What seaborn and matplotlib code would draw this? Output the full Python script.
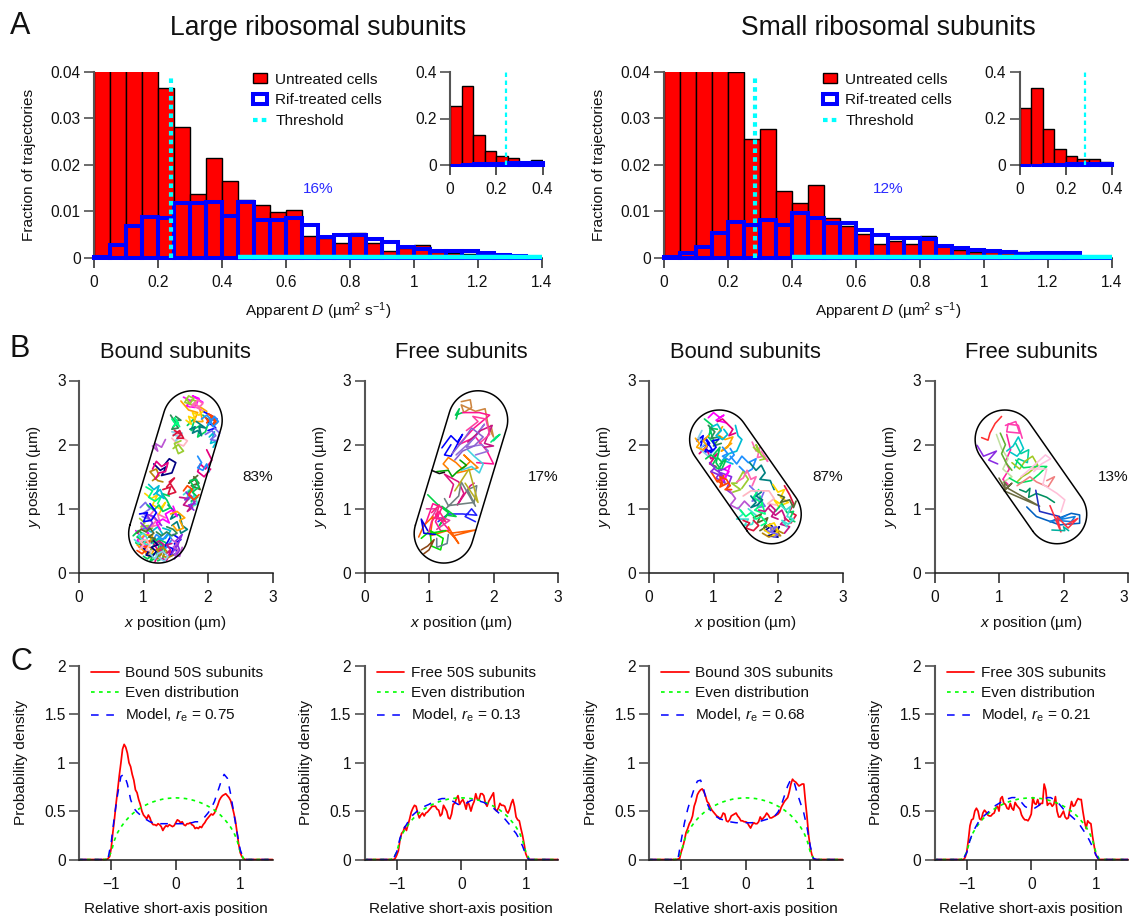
import numpy as np
import pandas as pd
import matplotlib.pyplot as plt
import seaborn as sns
from matplotlib.lines import Line2D
from matplotlib.patches import Patch

# Panel A: histograms, bin width 0.05
bin_edges = [0, .05, .1, .15, .2, .25, .3, .35, .4, .45, .5, .55, .6, .65, .7, .75, .8, .85, .9, .95,
             1.0, 1.05, 1.1, 1.15, 1.2, 1.25, 1.3, 1.35, 1.4]
bin_starts = bin_edges[:-1]

large_untreated = [.255, .34, .13, .06, .0366, .0282, .0138, .0215, .0165, .0125, .0115, .0098, .0104, .0048,
                   .0042, .0032, .0053, .0032, .0015, .0022, .0027, .0012, .001, .0008, .0006, .0008, .0003, .0002]
large_rif = [.0002, .0027, .0068, .0088, .0085, .0118, .0118, .012, .009, .012, .0082, .0082, .0087, .0072,
             .0046, .005, .005, .004, .0035, .0024, .0019, .0016, .0015, .0014, .001, .0006, .0005, 0]
small_untreated = [.245, .33, .155, .07, .04, .0255, .0277, .0145, .0118, .0157, .0085, .0068, .0052, .003,
                   .0036, .003, .0047, .0025, .0018, .0012, .0012, .001, .0013, .0009, .0007, .0005, .0004, .0002]
small_rif = [.0002, .0011, .0024, .0053, .0078, .0072, .0082, .0072, .0097, .0085, .0075, .0075, .006, .005,
             .0042, .0043, .0041, .0025, .0022, .0017, .0015, .0012, .0008, .001, .001, .001, 0, 0]
large_threshold = 0.24
small_threshold = 0.285
large_cyan_start = 0.45
small_cyan_start = 0.40
hist_xticks = [0, .2, .4, .6, .8, 1, 1.2, 1.4]
hist_xlabels = ['0', '0.2', '0.4', '0.6', '0.8', '1', '1.2', '1.4']
hist_yticks = [0, .01, .02, .03, .04]
hist_ylabels = ['0', '0.01', '0.02', '0.03', '0.04']

# Panel B: cell outlines (end-cap centres, radius) and trajectories
cell_right_tilt = [(1.23, 0.615), (1.76, 2.38)]
cell_left_tilt = [(1.90, 0.916), (1.09, 2.08)]
cell_radius = 0.46

bound50_tracks = [
    [(0.88,0.66),(0.95,0.58),(0.90,0.50),(1.00,0.47),(0.93,0.40),(1.04,0.42),(0.98,0.55),(1.08,0.62),(0.97,0.70)],
    [(1.08,0.30),(1.16,0.44),(1.12,0.54),(1.24,0.42),(1.20,0.28),(1.29,0.35),(1.25,0.52),(1.35,0.47),(1.30,0.23),(1.22,0.19)],
    [(1.41,0.55),(1.34,0.42),(1.46,0.38),(1.41,0.26),(1.52,0.31),(1.48,0.46),(1.58,0.52),(1.46,0.60)],
    [(0.90,0.44),(1.02,0.33),(1.10,0.24),(1.16,0.36),(1.06,0.42),(1.14,0.58),(1.02,0.60),(0.94,0.52)],
    [(1.00,0.70),(1.12,0.64),(1.22,0.72),(1.30,0.60),(1.20,0.52),(1.34,0.54),(1.42,0.66),(1.30,0.70)],
    [(1.18,0.18),(1.24,0.34),(1.18,0.42),(1.28,0.47),(1.22,0.24),(1.36,0.20),(1.42,0.34),(1.34,0.30)],
    [(0.84,0.58),(0.92,0.66),(0.98,0.62),(0.90,0.56),(1.02,0.50),(0.96,0.44),(0.88,0.47)],
    [(1.48,0.22),(1.56,0.36),(1.50,0.50),(1.60,0.60),(1.54,0.46),(1.44,0.30)],
    [(0.90,0.35),(0.98,0.30),(1.05,0.38),(0.96,0.46),(1.10,0.50),(1.02,0.36),(1.12,0.28)],
    [(1.12,0.46),(1.20,0.60),(1.30,0.52),(1.38,0.62),(1.44,0.52),(1.34,0.38),(1.26,0.44)],
    [(0.94,0.85),(1.02,0.78),(0.96,0.72),(1.08,0.74),(1.02,0.66),(1.14,0.70)],
    [(1.18,1.00),(1.10,0.90),(1.20,0.82),(1.12,0.72),(1.26,0.76),(1.22,0.92),(1.34,0.86)],
    [(1.38,1.06),(1.48,0.96),(1.42,0.84),(1.56,0.92),(1.60,0.74),(1.68,0.68),(1.58,0.62),(1.52,0.80),(1.44,0.74)],
    [(1.02,1.24),(1.12,1.16),(1.22,1.22),(1.14,1.06),(1.26,1.00),(1.34,1.10),(1.24,0.92)],
    [(0.95,1.02),(1.03,1.10),(1.10,1.00),(1.00,0.93),(1.08,0.84),(0.98,0.88)],
    [(1.04,1.34),(1.14,1.28),(1.08,1.18),(1.18,1.12),(1.28,1.20),(1.22,1.08)],
    [(1.30,1.30),(1.42,1.34),(1.38,1.22),(1.50,1.26),(1.40,1.42),(1.48,1.48),(1.36,1.34)],
    [(1.62,1.22),(1.72,1.30),(1.66,1.12),(1.78,1.20),(1.72,1.02),(1.84,1.08),(1.76,1.28),(1.82,1.38)],
    [(1.78,1.50),(1.86,1.40),(1.74,1.36),(1.88,1.30),(1.80,1.46),(1.70,1.40),(1.84,1.52)],
    [(1.56,1.18),(1.70,1.16),(1.62,1.06),(1.76,1.02),(1.68,0.96),(1.80,1.12)],
    [(1.16,1.70),(1.26,1.60),(1.36,1.66),(1.28,1.52),(1.44,1.56),(1.50,1.72),(1.40,1.78),(1.32,1.68)],
    [(1.14,1.44),(1.24,1.52),(1.20,1.62),(1.10,1.58),(1.22,1.44),(1.30,1.42)],
    [(1.14,1.98),(1.22,1.90),(1.18,2.02),(1.28,1.96),(1.34,2.08)],
    [(1.44,2.10),(1.52,2.02),(1.62,1.98),(1.68,2.06),(1.52,2.16),(1.48,2.26)],
    [(1.42,2.46),(1.50,2.34),(1.44,2.24),(1.54,2.26),(1.46,2.38),(1.58,2.38),(1.50,2.44)],
    [(1.46,2.16),(1.56,2.12),(1.50,2.06),(1.60,2.18),(1.44,2.20)],
    [(1.62,2.74),(1.74,2.68),(1.66,2.60),(1.80,2.58),(1.86,2.72),(1.76,2.76),(1.92,2.66)],
    [(1.68,2.30),(1.80,2.42),(1.74,2.22),(1.88,2.30),(1.84,2.12),(1.96,2.20),(2.02,2.38),(1.92,2.46)],
    [(1.92,2.52),(2.04,2.46),(2.14,2.40),(2.06,2.30),(1.98,2.40),(2.12,2.26),(2.00,2.22)],
    [(1.58,2.68),(1.70,2.54),(1.84,2.50),(1.78,2.36),(1.92,2.36),(1.86,2.60),(1.98,2.52)],
    [(2.02,2.12),(2.10,2.20),(2.04,2.02),(2.14,2.06),(2.08,1.96)],
    [(1.98,1.92),(2.06,1.76),(1.96,1.62),(1.88,1.70),(1.84,1.58),(1.94,1.50),(2.04,1.62)],
    [(1.00,0.26),(1.06,0.22),(1.16,0.30),(1.10,0.18),(1.26,0.28),(1.32,0.42),(1.18,0.52)],
    [(0.96,0.78),(1.06,0.68),(1.14,0.78),(1.04,0.92),(1.16,0.88),(1.28,0.74)],
    [(1.96,2.42),(2.02,2.36),(2.08,2.44),(2.00,2.48),(2.12,2.38),(2.06,2.30),(2.14,2.34),(2.04,2.42),(1.98,2.34)],
    [(1.90,2.40),(1.98,2.46),(2.06,2.38),(2.00,2.30),(2.10,2.44),(2.16,2.36),(2.08,2.28),(2.02,2.40)],
    [(1.66,2.72),(1.72,2.64),(1.78,2.72),(1.70,2.76),(1.64,2.66),(1.76,2.62),(1.82,2.68),(1.74,2.70)],
    [(1.72,2.58),(1.80,2.66),(1.86,2.58),(1.92,2.64),(1.84,2.70),(1.78,2.60),(1.90,2.54)],
    [(1.72,2.24),(1.80,2.28),(1.76,2.18),(1.84,2.22),(1.90,2.14),(1.86,2.28),(1.96,2.26),(1.82,2.36)],
    [(1.66,2.38),(1.74,2.32),(1.70,2.44),(1.80,2.40),(1.76,2.50),(1.86,2.46),(1.92,2.52)],
    [(1.96,2.16),(2.06,2.22),(2.12,2.14),(2.04,2.08),(2.14,2.06),(2.18,2.18),(2.10,2.26)],
    [(1.44,2.40),(1.50,2.32),(1.46,2.28),(1.54,2.34),(1.48,2.42),(1.56,2.28)],
    [(1.48,2.22),(1.58,2.16),(1.52,2.10),(1.62,2.10),(1.56,2.22),(1.46,2.14)],
    [(0.86,0.52),(0.92,0.46),(0.98,0.52),(0.92,0.58),(1.00,0.62),(1.06,0.54),(1.00,0.46),(1.08,0.44)],
    [(0.90,0.62),(0.96,0.68),(1.04,0.64),(1.10,0.70),(1.16,0.62),(1.08,0.56),(1.18,0.54),(1.12,0.48)],
    [(1.16,0.44),(1.24,0.50),(1.32,0.44),(1.26,0.36),(1.34,0.30),(1.42,0.36),(1.36,0.44),(1.44,0.46)],
    [(1.00,0.38),(1.08,0.34),(1.04,0.28),(1.14,0.26),(1.20,0.34),(1.12,0.40),(1.22,0.44),(1.16,0.50)],
    [(1.22,0.22),(1.28,0.30),(1.20,0.36),(1.30,0.40),(1.36,0.34),(1.30,0.26),(1.38,0.24),(1.46,0.28)],
    [(1.44,0.52),(1.52,0.46),(1.46,0.40),(1.54,0.36),(1.48,0.28),(1.56,0.26),(1.60,0.40)],
    [(0.94,0.36),(1.00,0.44),(0.94,0.50),(1.04,0.52),(1.10,0.44),(1.04,0.36),(1.12,0.34)],
    [(1.20,0.64),(1.28,0.58),(1.36,0.64),(1.44,0.58),(1.52,0.62),(1.46,0.68),(1.36,0.72)],
    [(1.24,0.24),(1.32,0.18),(1.38,0.26),(1.30,0.34),(1.22,0.30),(1.18,0.22),(1.10,0.30)],
    [(1.26,0.68),(1.20,0.78),(1.30,0.84),(1.40,0.78),(1.34,0.92),(1.44,0.98),(1.52,0.88),(1.46,1.04)],
    [(1.06,1.06),(1.16,0.98),(1.24,1.06),(1.30,0.96),(1.42,1.02),(1.36,1.14),(1.28,1.24),(1.40,1.20)],
    [(0.94,0.92),(1.06,0.94),(1.00,0.80),(1.12,0.82),(1.20,0.94),(1.10,1.08)],
    [(1.46,0.74),(1.52,0.66),(1.62,0.70),(1.56,0.82),(1.64,0.86),(1.52,0.96),(1.42,0.92)],
    [(1.08,1.38),(1.16,1.30),(1.24,1.36),(1.20,1.24),(1.32,1.16),(1.26,1.30),(1.16,1.22)],
    [(1.14,1.62),(1.20,1.74),(1.28,1.66),(1.38,1.72),(1.34,1.58),(1.24,1.56),(1.18,1.46)],
    [(1.70,1.26),(1.78,1.34),(1.72,1.44),(1.82,1.46),(1.86,1.34),(1.76,1.26),(1.84,1.18),(1.74,1.12)],
    [(1.64,1.14),(1.72,1.18),(1.66,1.26),(1.74,1.20),(1.80,1.08),(1.70,1.06),(1.78,0.98)],
    [(1.62,1.28),(1.68,1.36),(1.76,1.30),(1.70,1.22),(1.78,1.14),(1.86,1.22)],
    [(1.84,1.82),(1.90,1.72),(1.84,1.64),(1.92,1.60),(1.98,1.70),(2.02,1.58)],
    [(1.46,1.94),(1.54,2.00),(1.62,1.90),(1.54,1.86),(1.48,2.02),(1.58,2.06)],
]
free50_tracks = [
    [(1.50,2.67),(1.64,2.70),(1.66,2.58),(1.54,2.50),(1.50,2.62),(1.72,2.52),(1.87,2.56),(1.92,2.28),(2.00,2.12),(1.96,2.30)],
    [(1.42,2.40),(1.47,2.56),(1.41,2.46),(1.52,2.50)],
    [(1.52,2.50),(1.78,2.50),(1.94,2.46),(1.70,2.26),(1.46,2.00),(1.72,2.12),(1.90,1.90),(2.00,1.70),(1.74,1.72)],
    [(1.20,1.95),(1.34,2.14),(1.44,2.04),(1.52,2.16),(1.34,1.82),(1.24,1.84),(1.34,2.00)],
    [(1.42,1.84),(1.70,2.10),(1.86,2.32),(1.58,1.96),(1.82,2.00),(1.92,1.90),(1.72,1.84)],
    [(1.60,2.04),(1.80,2.22),(1.98,2.30),(1.86,2.02),(2.00,1.98),(1.86,1.96)],
    [(2.00,2.06),(2.10,2.16),(2.04,2.12),(1.96,2.04)],
    [(1.30,1.62),(1.22,1.70),(1.30,1.80),(1.42,1.72),(1.52,1.62),(1.64,1.74),(1.54,1.84),(1.76,1.64),(1.44,1.56)],
    [(1.50,1.60),(1.66,1.66),(1.78,1.56),(1.84,1.70),(1.70,1.82),(1.60,1.92)],
    [(1.12,1.58),(1.30,1.60),(1.36,1.50),(1.44,1.58),(1.58,1.68),(1.48,1.76)],
    [(1.32,1.18),(1.38,1.38),(1.24,1.54),(1.46,1.42),(1.54,1.24),(1.44,1.06),(1.64,1.36),(1.70,1.40)],
    [(1.26,1.00),(1.46,1.20),(1.50,1.42),(1.72,1.04),(1.60,1.30),(1.74,1.36),(1.70,1.10),(1.30,1.05),(1.24,1.16)],
    [(1.40,1.28),(1.62,1.62),(1.76,1.10),(1.56,1.40)],
    [(1.14,0.80),(1.30,0.92),(1.52,0.92),(1.74,0.90),(1.66,1.00),(1.56,0.88),(1.72,0.80)],
    [(0.98,1.22),(1.12,1.08),(1.30,0.94),(1.16,0.74),(1.28,0.90),(1.42,0.88),(1.20,1.04)],
    [(0.90,0.70),(0.96,0.80),(1.06,1.08),(1.20,1.02),(1.10,0.80),(1.18,0.66),(1.32,0.66),(1.10,0.92)],
    [(0.96,1.00),(1.12,1.00),(1.04,0.86),(1.22,0.86),(1.32,0.82),(1.12,0.68)],
    [(0.84,0.56),(0.92,0.74),(1.06,0.88),(1.02,0.58),(1.28,0.66),(1.40,0.56),(1.46,0.46),(1.34,0.62),(1.72,0.67),(1.38,0.58),(1.30,0.72)],
    [(0.88,0.54),(1.02,0.66),(1.22,0.54),(1.18,0.36),(1.04,0.42),(1.02,0.62),(1.26,0.66)],
    [(0.98,0.66),(0.88,0.84),(0.92,0.62),(1.10,0.60)],
    [(0.92,0.30),(1.00,0.36),(1.08,0.52),(0.98,0.42),(0.88,0.36)],
    [(1.12,0.54),(1.12,0.40),(1.28,0.46),(1.30,0.60)],
    [(1.04,1.60),(1.16,1.55),(1.24,1.57)],
    [(1.36,1.86),(1.54,2.08),(1.66,2.26),(1.84,2.12),(1.70,1.98),(1.52,1.90),(1.40,1.76)],
    [(1.58,2.22),(1.76,2.36),(1.68,2.44),(1.88,2.40),(1.94,2.16),(1.78,2.02)],
    [(1.04,0.94),(1.16,1.06),(1.10,0.86),(1.26,0.80),(1.16,0.96),(1.04,0.80),(1.00,0.64)],
]
bound30_tracks = [
    [(0.92,2.42),(1.00,2.50),(1.10,2.42),(1.16,2.46),(1.04,2.38),(1.20,2.34)],
    [(0.86,2.40),(0.98,2.30),(0.92,2.12),(1.02,2.00),(0.94,2.26),(1.06,2.24)],
    [(0.74,2.06),(0.84,2.14),(0.80,1.96),(0.92,2.02),(0.86,1.88),(0.98,1.92),(0.88,2.08)],
    [(1.14,2.28),(1.06,2.16),(1.18,2.08),(1.30,2.12),(1.22,1.96),(1.12,1.90),(1.28,2.02)],
    [(1.34,2.30),(1.38,2.14),(1.44,2.08),(1.36,1.90),(1.24,1.86),(1.14,1.76),(1.30,1.70)],
    [(0.78,1.86),(0.88,1.96),(0.96,1.78),(1.06,1.86),(0.94,1.70),(1.04,1.66)],
    [(1.00,1.84),(1.10,1.96),(1.04,1.72),(1.12,1.60),(1.20,1.78),(1.10,1.70)],
    [(1.02,1.62),(1.10,1.56),(1.04,1.48),(1.18,1.40),(1.12,1.56),(1.28,1.50),(1.20,1.30),(1.28,1.24)],
    [(0.96,1.58),(1.06,1.42),(1.16,1.52),(1.10,1.34),(1.22,1.40)],
    [(1.26,1.82),(1.36,1.70),(1.44,1.82),(1.54,1.72),(1.66,1.78),(1.60,1.62),(1.50,1.56),(1.40,1.66)],
    [(1.44,1.32),(1.54,1.46),(1.46,1.58),(1.36,1.40),(1.28,1.40),(1.42,1.30),(1.30,1.26)],
    [(1.60,2.04),(1.66,1.90),(1.72,1.96),(1.68,1.80),(1.78,1.82),(1.84,1.74),(1.74,1.90)],
    [(1.56,1.72),(1.66,1.60),(1.74,1.68),(1.80,1.56),(1.72,1.46),(1.88,1.44),(1.94,1.30)],
    [(1.92,1.38),(2.00,1.26),(2.10,1.30),(2.04,1.18),(2.16,1.10),(2.06,1.06),(1.94,1.14),(2.02,1.02)],
    [(1.56,1.36),(1.68,1.24),(1.60,1.12),(1.72,1.16),(1.80,1.04),(1.68,1.02),(1.78,1.26)],
    [(1.70,1.30),(1.62,1.18),(1.76,1.08),(1.64,0.98),(1.80,0.92),(1.72,1.20)],
    [(2.10,1.36),(2.18,1.22),(2.24,1.08),(2.18,0.96),(2.28,0.90),(2.20,0.78),(2.10,0.86)],
    [(1.38,1.02),(1.46,0.92),(1.36,0.84),(1.54,0.84),(1.48,0.74),(1.60,0.76),(1.66,0.90),(1.54,1.00)],
    [(1.62,0.86),(1.74,0.92),(1.68,0.78),(1.84,0.86),(1.78,0.70),(1.88,0.76),(1.72,0.66)],
    [(1.86,1.00),(1.96,0.90),(2.06,0.98),(2.12,0.84),(2.04,0.76),(2.18,0.72),(2.10,0.62)],
    [(1.80,0.66),(1.90,0.74),(1.96,0.62),(2.02,0.72),(1.92,0.60),(1.84,0.58),(2.00,0.56),(1.92,0.66)],
    [(1.76,0.62),(1.86,0.56),(1.94,0.60),(2.04,0.58),(1.96,0.68),(2.08,0.62)],
    [(1.24,1.30),(1.34,1.16),(1.26,1.06),(1.38,1.00),(1.48,1.12),(1.56,1.04)],
    [(1.46,1.20),(1.58,1.28),(1.86,1.28),(1.94,1.16),(1.84,1.08),(1.98,1.06)],
    [(0.92,2.30),(1.02,2.20),(0.96,2.10),(1.10,2.12),(1.00,1.98),(1.12,2.02)],
    [(0.82,2.22),(0.76,2.10),(0.88,2.02),(0.78,1.94),(0.92,1.82),(1.02,1.92)],
    [(1.14,1.44),(1.24,1.58),(1.16,1.62),(1.26,1.68),(1.18,1.46)],
    [(1.96,0.96),(2.06,1.08),(2.14,0.94),(2.24,0.96),(2.18,0.84),(2.26,0.80)],
    [(0.80,2.04),(0.88,2.10),(0.94,2.02),(0.86,1.94),(0.96,1.88),(1.04,1.96),(0.98,2.06),(1.08,2.08)],
    [(0.72,2.10),(0.78,2.02),(0.74,1.96),(0.84,1.92),(0.90,1.98),(0.84,2.06),(0.92,2.14)],
    [(0.98,2.28),(1.06,2.32),(1.12,2.22),(1.04,2.14),(1.14,2.08),(1.22,2.16),(1.16,2.24)],
    [(1.06,2.36),(1.14,2.40),(1.22,2.32),(1.30,2.24),(1.24,2.14),(1.34,2.18)],
    [(0.88,1.78),(0.96,1.84),(1.04,1.78),(0.98,1.68),(1.08,1.62),(1.14,1.72),(1.06,1.80)],
    [(0.94,1.72),(1.02,1.64),(0.96,1.58),(1.06,1.54),(1.14,1.48),(1.08,1.60),(1.18,1.62)],
    [(1.06,1.44),(1.14,1.38),(1.10,1.50),(1.20,1.46),(1.26,1.36),(1.18,1.30),(1.28,1.30)],
    [(1.14,1.96),(1.22,1.86),(1.14,1.82),(1.24,1.76),(1.32,1.84),(1.26,1.94)],
    [(1.62,1.96),(1.70,1.88),(1.66,2.00),(1.74,1.84),(1.80,1.78),(1.72,1.76)],
    [(1.36,1.42),(1.46,1.48),(1.52,1.60),(1.58,1.46),(1.66,1.50),(1.60,1.36)],
    [(1.58,1.20),(1.66,1.10),(1.58,1.02),(1.68,1.06),(1.76,1.14),(1.66,1.20),(1.74,1.26)],
    [(1.78,0.68),(1.86,0.62),(1.92,0.70),(1.84,0.74),(1.94,0.78),(2.00,0.66),(1.92,0.58),(1.98,0.62)],
    [(1.84,0.66),(1.92,0.62),(1.88,0.70),(1.98,0.72),(1.90,0.64),(2.00,0.60),(1.94,0.56)],
    [(1.42,0.98),(1.50,0.88),(1.58,0.94),(1.66,0.84),(1.74,0.88),(1.82,0.78),(1.74,0.74)],
    [(1.46,0.82),(1.56,0.78),(1.50,0.70),(1.62,0.66),(1.70,0.74),(1.62,0.82)],
    [(2.04,1.06),(2.12,0.98),(2.20,1.04),(2.14,0.88),(2.24,0.84),(2.16,0.76),(2.06,0.82),(2.14,0.72)],
    [(2.00,1.22),(2.10,1.18),(2.04,1.10),(2.18,1.14),(2.24,1.02),(2.28,1.12)],
    [(1.70,0.98),(1.80,0.96),(1.88,1.06),(1.96,0.98),(1.90,0.88),(2.00,0.84)],
]
free30_tracks = [
    [(0.73,2.11),(0.83,2.07),(0.86,2.18),(0.94,2.33),(1.04,2.44)],
    [(1.10,2.30),(1.26,2.36),(1.32,2.18),(1.12,2.20),(1.14,2.32),(1.30,2.30),(1.36,2.10)],
    [(0.66,1.99),(0.76,1.82),(0.96,1.90),(0.84,1.76),(0.98,1.70)],
    [(1.12,2.16),(1.18,1.92),(1.10,1.74),(1.16,1.62),(1.06,1.46),(1.14,1.38)],
    [(0.96,2.16),(1.04,1.94),(1.14,1.78),(1.06,1.62),(1.20,1.50),(1.04,1.40)],
    [(1.12,1.90),(1.22,1.98),(1.30,2.12),(1.38,1.94),(1.28,1.82),(1.18,1.88)],
    [(1.26,2.02),(1.34,1.86),(1.46,1.92),(1.44,1.72),(1.30,1.78),(1.24,1.64)],
    [(1.20,1.72),(1.32,1.62),(1.40,1.74),(1.52,1.82),(1.60,1.68),(1.46,1.56),(1.36,1.50),(1.28,1.42)],
    [(1.26,1.76),(1.38,1.64),(1.56,1.66),(1.74,1.66),(1.62,1.54),(1.50,1.44),(1.30,1.40),(1.16,1.48)],
    [(1.28,1.36),(1.48,1.50),(1.58,1.42),(1.76,1.34),(1.86,1.50),(1.74,1.44)],
    [(1.34,1.50),(1.48,1.62),(1.72,1.84),(1.80,1.78),(1.66,1.70),(1.54,1.58)],
    [(1.00,1.48),(1.10,1.30),(1.08,1.42),(1.14,1.34),(1.20,1.40),(1.08,1.28),(1.63,1.04),(1.12,1.33)],
    [(1.32,1.30),(1.42,1.26),(1.48,1.32),(1.46,1.18),(1.58,1.24),(1.74,1.18),(1.86,1.10)],
    [(1.50,1.62),(1.74,1.62),(1.68,1.38),(1.90,1.24),(2.02,1.14),(1.96,0.95)],
    [(1.57,1.29),(1.63,0.96),(1.94,0.88)],
    [(1.43,1.03),(1.58,0.88),(1.94,0.75),(2.25,0.775),(2.25,0.905),(2.12,0.93),(1.79,0.80)],
    [(1.79,0.80),(2.18,0.88),(2.12,0.80),(1.90,0.82),(2.05,0.90)],
    [(1.79,1.05),(1.96,0.64),(1.90,0.88),(2.07,0.70),(2.22,0.85),(2.06,0.76)],
    [(1.82,0.67),(2.02,0.66),(2.00,0.72),(2.08,0.66)],
    [(1.02,2.18),(1.10,2.00),(1.04,1.86),(1.12,1.70),(1.20,1.60)],
]
bound50_pct, free50_pct, bound30_pct, free30_pct = '83%', '17%', '87%', '13%'
track_colors = ['#ff00ff', '#00d060', '#0000ff', '#ffa500', '#00bcd4', '#e6007e', '#00c853', '#8a2be2', '#ff4500',
                '#1e90ff', '#9acd32', '#ff69b4', '#008080', '#ffd700', '#7b68ee', '#00ff7f', '#dc143c', '#40e0d0',
                '#556b2f', '#c71585', '#000080', '#b8860b', '#ba55d3', '#ffb6c1', '#2e8b57', '#87ceeb']
free50_colors = ['#cd853f', '#00c853', '#ff1493', '#0000ff', '#9370db', '#c71585', '#00e676', '#ff7f00', '#40d0e0',
                 '#00a000', '#dc1480', '#708080', '#b8b020', '#2020ff', '#00d040', '#ff1493', '#e0409f', '#ff6000',
                 '#00e000', '#0000e0', '#8b4513', '#608090', '#101010', '#8a60d0', '#ff40a0', '#ff2080']
free30_colors = ['#ff3030', '#ff3fb0', '#8a2be2', '#ff20a0', '#c0e0a0', '#00c8c8', '#00d0a0', '#a0c820', '#00e060',
                 '#f08080', '#ffc0e0', '#6b6b40', '#009060', '#ffc0d8', '#2030c0', '#0060c0', '#1080e0', '#ff3040',
                 '#00b0a0', '#60b030']

# Panel C: density curves
fine_x = [-1.1, -1.075, -1.05, -1.025, -1.0, -.975, -.95, -.925, -.9, -.875,
          -.85, -.825, -.8, -.775, -.75, -.725, -.7, -.675, -.65, -.625,
          -.6, -.575, -.55, -.525, -.5, -.475, -.45, -.425, -.4, -.375,
          -.35, -.325, -.3, -.275, -.25, -.225, -.2, -.175, -.15, -.125,
          -.1, -.075, -.05, -.025, 0, .025, .05, .075, .1, .125,
          .15, .175, .2, .225, .25, .275, .3, .325, .35, .375,
          .4, .425, .45, .475, .5, .525, .55, .575, .6, .625,
          .65, .675, .7, .725, .75, .775, .8, .825, .85, .875,
          .9, .925, .95, .975, 1.0, 1.025, 1.05, 1.075, 1.1]
coarse_x = [-1.1, -1.05, -1, -.95, -.9, -.85, -.8, -.75, -.7, -.65, -.6, -.55, -.5, -.45, -.4, -.35, -.3, -.25, -.2,
            -.15, -.1, -.05, 0, .05, .1, .15, .2, .25, .3, .35, .4, .45, .5, .55, .6, .65, .7, .75, .8, .85, .9, .95,
            1, 1.05, 1.1]

bound50_density = [0, 0, .01, .03, .12, .28, .42, .58, .72, .87,
                   1.0, 1.14, 1.19, 1.16, 1.1, 1.0, .96, .88, .82, .72,
                   .69, .62, .57, .50, .46, .44, .42, .46, .43, .38,
                   .36, .36, .35, .37, .36, .34, .30, .33, .35, .34,
                   .36, .35, .34, .35, .38, .41, .40, .38, .39, .36,
                   .35, .37, .37, .38, .36, .35, .32, .33, .32, .34,
                   .33, .36, .38, .41, .43, .45, .47, .46, .48, .52,
                   .56, .61, .64, .66, .67, .68, .66, .64, .61, .55,
                   .48, .40, .28, .16, .07, .03, .01, 0, 0]
free50_density = [0, 0, 0, .01, .045, .09, .2, .27, .29, .34,
                  .30, .36, .42, .49, .53, .56, .55, .48, .43, .46,
                  .48, .45, .48, .49, .51, .53, .55, .55, .55, .52,
                  .51, .45, .47, .56, .53, .50, .43, .42, .47, .57,
                  .58, .63, .66, .57, .6, .62, .58, .52, .6, .56,
                  .5, .56, .6, .68, .62, .62, .68, .68, .66, .58,
                  .55, .6, .63, .66, .69, .52, .5, .53, .58, .56,
                  .56, .55, .5, .48, .52, .58, .62, .55, .44, .41,
                  .4, .32, .25, .16, .06, .02, 0, 0, 0]
bound30_density = [0, 0, .005, .01, .08, .13, .2, .28, .32, .37,
                   .40, .45, .55, .60, .67, .70, .72, .73, .70, .66,
                   .60, .58, .54, .51, .49, .47, .45, .44, .42, .44,
                   .48, .47, .40, .39, .41, .45, .46, .47, .48, .45,
                   .43, .40, .40, .39, .39, .38, .35, .325, .36, .38,
                   .37, .37, .39, .44, .41, .43, .45, .48, .46, .43,
                   .43, .44, .45, .46, .47, .49, .54, .57, .60, .62,
                   .64, .70, .78, .83, .81, .80, .78, .76, .77, .78,
                   .78, .6, .44, .25, .12, .05, .01, 0, 0]
free30_density = [0, 0, 0, .02, .08, .2, .35, .41, .42, .5,
                  .53, .50, .42, .41, .48, .51, .49, .46, .45, .45,
                  .47, .48, .53, .55, .50, .63, .65, .58, .57, .53,
                  .52, .58, .53, .51, .59, .56, .54, .52, .46, .43,
                  .41, .41, .40, .43, .47, .64, .58, .57, .62, .56,
                  .58, .58, .78, .72, .56, .58, .58, .55, .57, .65,
                  .50, .44, .44, .47, .50, .44, .42, .43, .52, .60,
                  .55, .56, .60, .63, .62, .62, .50, .40, .32, .40,
                  .38, .37, .24, .14, .05, .02, 0, 0, 0]
even_density = [0, .01, .08, .2, .28, .335, .38, .42, .455, .484, .51, .532, .551, .568, .583, .596, .607, .616, .624,
                .63, .633, .636, .637, .636, .633, .63, .624, .616, .607, .596, .583, .568, .551, .532, .51, .484,
                .455, .42, .38, .335, .28, .2, .08, .01, 0]
bound50_model = [0, .01, .18, .45, .68, .86, .88, .78, .62, .53, .49, .46, .43, .41, .39, .38, .38, .37, .37, .37, .37,
                 .37, .37, .37, .37, .37, .38, .38, .39, .39, .41, .44, .48, .53, .60, .70, .80, .88, .84, .68, .48,
                 .28, .10, .01, 0]
free50_model = [0, .01, .08, .22, .31, .36, .42, .46, .49, .52, .54, .555, .57, .59, .60, .62, .63, .63, .63, .61, .59,
                .57, .56, .57, .59, .61, .62, .62, .6, .59, .57, .55, .53, .50, .47, .44, .40, .36, .31, .27, .21,
                .14, .05, 0, 0]
bound30_model = [0, .01, .2, .38, .52, .63, .73, .81, .82, .72, .58, .51, .47, .44, .42, .41, .40, .39, .385, .38, .38,
                 .38, .38, .38, .38, .385, .39, .40, .41, .42, .43, .45, .49, .56, .66, .76, .83, .80, .68, .58, .48,
                 .33, .14, .01, 0]
free30_model = [0, .01, .07, .2, .29, .35, .41, .44, .47, .50, .53, .56, .58, .60, .62, .63, .64, .64, .62, .59, .55,
                .53, .525, .53, .55, .58, .62, .64, .64, .62, .60, .56, .52, .49, .46, .43, .40, .36, .31, .26, .20,
                .13, .05, 0, 0]
density_labels = ['Bound 50S subunits', 'Free 50S subunits', 'Bound 30S subunits', 'Free 30S subunits']
model_labels = ['0.75', '0.13', '0.68', '0.21']

sns.set_theme(style="ticks")
plt.rcParams['font.family'] = ['Liberation Sans', 'DejaVu Sans']
plt.rcParams['mathtext.fontset'] = 'custom'
plt.rcParams['mathtext.rm'] = 'Liberation Sans'
plt.rcParams['mathtext.it'] = 'Liberation Sans:italic'
plt.rcParams['text.color'] = '#111111'
plt.rcParams['axes.labelcolor'] = '#111111'

W, H = 1130, 916
FS = 11.1
fig = plt.figure(figsize=(W / 100, H / 100), dpi=100, facecolor='white')


def px_axes(left, top, right, bottom):
    return fig.add_axes([left / W, 1 - bottom / H, (right - left) / W, (bottom - top) / H])


def style_axes(ax, size=FS + 0.1):
    sns.despine(ax=ax)
    ax.patch.set_alpha(0)
    ax.spines['left'].set_color('#555555')
    ax.spines['left'].set_linewidth(1.5)
    ax.spines['bottom'].set_color('#1a1a1a')
    ax.spines['bottom'].set_linewidth(1.1)
    ax.tick_params(axis='y', length=7, width=1.1, color='#444444', labelsize=size, pad=2.5, labelcolor='#111111')
    ax.tick_params(axis='x', length=7, width=1.1, color='#222222', labelsize=size, pad=5.5, labelcolor='#111111')


def set_labels(ax, xlabel, ylabel, xy, yx):
    ax.set_xlabel(xlabel, fontsize=FS, va='center')
    ax.set_ylabel(ylabel, fontsize=FS, va='center')
    ax.xaxis.set_label_coords(0.5, xy)
    ax.yaxis.set_label_coords(yx, 0.5)


def draw_hist(ax, untreated, rif, lw, nbins):
    sns.histplot(x=bin_starts[:nbins], weights=untreated[:nbins], bins=bin_edges[:nbins + 1], ax=ax, color='#ff0000',
                 edgecolor='black', linewidth=1.0, alpha=1)
    n = len(ax.patches)
    sns.histplot(x=bin_starts[:nbins], weights=rif[:nbins], bins=bin_edges[:nbins + 1], ax=ax, fill=False,
                 color='#0000ff', linewidth=lw)
    for p in ax.patches[n:]:
        p.set_edgecolor('#0000ff')
        p.set_clip_on(False)
        p.set_zorder(3)
    ax.set_ylabel('')
    ax.set_xlabel('')


def hist_panel(rect, inset_rect, title, untreated, rif, threshold, cyan_start, pct):
    ax = px_axes(*rect)
    draw_hist(ax, untreated, rif, 2.9, len(bin_starts))
    ax.set_xlim(0, 1.4)
    ax.set_ylim(0, 0.04)
    ax.hlines(0.0003, cyan_start, 1.4, color='#00ffff', lw=3.2, zorder=4, clip_on=False)
    ax.vlines(threshold, 0, 0.039, color='#00ffff', lw=3, linestyle=(0, (1.1, 1.0)), zorder=5)
    ax.set_xticks(hist_xticks, hist_xlabels)
    ax.set_yticks(hist_yticks, hist_ylabels)
    style_axes(ax)
    set_labels(ax, r'Apparent $D$ (µm$^{2}$ s$^{-1}$)', 'Fraction of trajectories', -0.285, -0.145)
    ax.text(0.70, 0.0148, pct, color='#2a2aff', fontsize=FS, ha='center', va='center')
    handles = [Patch(facecolor='#ff0000', edgecolor='black', lw=1),
               Patch(facecolor='white', edgecolor='#0000ff', lw=2.9),
               Line2D([], [], color='#00ffff', lw=3, linestyle=(0, (1.1, 1.0)))]
    ax.legend(handles, ['Untreated cells', 'Rif-treated cells', 'Threshold'], frameon=False, fontsize=FS,
              loc='upper left', bbox_to_anchor=(0.347, 1.012), handlelength=0.92, handleheight=0.62,
              handletextpad=0.55, labelspacing=0.42, borderpad=0.2, borderaxespad=0)
    fig.text((rect[0] + rect[2]) / 2 / W, 1 - 28 / H, title, fontsize=19.1, ha='center', va='center',
             color='#111111')

    inset = px_axes(*inset_rect)
    draw_hist(inset, untreated, rif, 2.2, 8)
    inset.set_xlim(0, 0.4)
    inset.set_ylim(0, 0.4)
    inset.vlines(threshold, 0, 0.4, color='#00ffff', lw=1.6, linestyle=(0, (2, 1.6)), zorder=5)
    inset.set_xticks([0, .2, .4], ['0', '0.2', '0.4'])
    inset.set_yticks([0, .2, .4], ['0', '0.2', '0.4'])
    style_axes(inset)


def capsule_outline(ends, radius):
    (x0, y0), (x1, y1) = ends
    angle = np.arctan2(y1 - y0, x1 - x0)
    t0 = np.linspace(angle + np.pi / 2, angle + 3 * np.pi / 2, 40)
    t1 = np.linspace(angle - np.pi / 2, angle + np.pi / 2, 40)
    xs = np.r_[x0 + radius * np.cos(t0), x1 + radius * np.cos(t1), x0 + radius * np.cos(t0[0])]
    ys = np.r_[y0 + radius * np.sin(t0), y1 + radius * np.sin(t1), y0 + radius * np.sin(t0[0])]
    return xs, ys


def track_panel(rect, title, tracks, colors, ends, pct, lw, keep_last_inside=False):
    ax = px_axes(*rect)
    rows = [(i, x, y) for i, track in enumerate(tracks) for x, y in track]
    df = pd.DataFrame(rows, columns=['track', 'x', 'y'])
    palette = {i: colors[i % len(colors)] for i in range(len(tracks))}
    sns.lineplot(data=df, x='x', y='y', hue='track', units='track', estimator=None, sort=False, palette=palette,
                 linewidth=lw, legend=False, ax=ax)
    xs, ys = capsule_outline(ends, cell_radius)
    ax.plot(xs, ys, color='black', lw=1.1, zorder=4)
    ax.set_xlim(0, 3)
    ax.set_ylim(0, 3)
    ax.set_xticks([0, 1, 2, 3], ['0', '1', '2', '3'])
    ax.set_yticks([0, 1, 2, 3], ['0', '1', '2', '3'])
    style_axes(ax)
    if keep_last_inside:
        # the last tick label would run off the right edge of the figure
        ax.get_xticklabels()[-1].set_ha('right')
    set_labels(ax, r'$x$ position (µm)', r'$y$ position (µm)', -0.26, -0.232)
    ax.text(2.77, 1.49, pct, fontsize=FS, ha='center', va='center', clip_on=False)
    fig.text((rect[0] + rect[2]) / 2 / W, 1 - 352 / H, title, fontsize=15.8, ha='center', va='center',
             color='#111111')


def density_panel(rect, density, model, label, re_value):
    ax = px_axes(*rect)
    sns.lineplot(x=[-1.5] + fine_x + [1.5], y=[0] + density + [0], sort=False, estimator=None, color='#ff0000',
                 linewidth=1.25, ax=ax, clip_on=False)
    sns.lineplot(x=[-1.5] + coarse_x + [1.5], y=[0] + even_density + [0], sort=False, estimator=None, color='#00ff00',
                 linewidth=1.2, linestyle=(0, (2.2, 2.6)), ax=ax, clip_on=False)
    sns.lineplot(x=[-1.5] + coarse_x + [1.5], y=[0] + model + [0], sort=False, estimator=None, color='#0000ff',
                 linewidth=1.1, linestyle=(0, (5, 5)), ax=ax, clip_on=False)
    ax.set_xlim(-1.5, 1.5)
    ax.set_ylim(0, 2)
    ax.set_xticks([-1, 0, 1], ['\u22121', '0', '1'])
    ax.set_yticks([0, .5, 1, 1.5, 2], ['0', '0.5', '1', '1.5', '2'])
    style_axes(ax)
    set_labels(ax, 'Relative short-axis position', 'Probability density', -0.255, -0.30)
    handles = [Line2D([], [], color='#ff0000', lw=1.25),
               Line2D([], [], color='#00ff00', lw=1.2, linestyle=(0, (2.2, 2.6))),
               Line2D([], [], color='#0000ff', lw=1.1, linestyle=(0, (5, 5)))]
    labels = [label, 'Even distribution', r'Model, $r_{\mathrm{e}}$ = ' + re_value]
    ax.legend(handles, labels, frameon=False, fontsize=FS, loc='upper left', bbox_to_anchor=(0.055, 1.008),
              handlelength=1.78, handletextpad=0.42, labelspacing=0.42, borderpad=0.1, borderaxespad=0)


hist_panel((94, 72, 542, 258), (450, 72, 542.5, 165), 'Large ribosomal subunits', large_untreated, large_rif,
           large_threshold, large_cyan_start, '16%')
hist_panel((664, 72, 1112, 258), (1019.5, 72, 1112, 165), 'Small ribosomal subunits', small_untreated, small_rif,
           small_threshold, small_cyan_start, '12%')

b_columns = [(79, 272.5), (364.5, 558), (649, 842.5), (934.5, 1128)]
track_panel((b_columns[0][0], 380.5, b_columns[0][1], 573), 'Bound subunits', bound50_tracks, track_colors,
            cell_right_tilt, bound50_pct, 1.25)
track_panel((b_columns[1][0], 380.5, b_columns[1][1], 573), 'Free subunits', free50_tracks, free50_colors,
            cell_right_tilt, free50_pct, 1.15)
track_panel((b_columns[2][0], 380.5, b_columns[2][1], 573), 'Bound subunits', bound30_tracks, track_colors,
            cell_left_tilt, bound30_pct, 1.25)
track_panel((b_columns[3][0], 380.5, b_columns[3][1], 573), 'Free subunits', free30_tracks, free30_colors,
            cell_left_tilt, free30_pct, 1.15, keep_last_inside=True)

c_curves = [(bound50_density, bound50_model), (free50_density, free50_model),
            (bound30_density, bound30_model), (free30_density, free30_model)]
for col, (density, model), label, re_value in zip(b_columns, c_curves, density_labels, model_labels):
    density_panel((col[0], 666, col[1], 859.5), density, model, label, re_value)

for letter, y in zip('ABC', [26, 349, 662]):
    fig.text(10 / W, 1 - y / H, letter, fontsize=22, ha='left', va='center', color='#111111')

plt.savefig('out.png', dpi=100)
